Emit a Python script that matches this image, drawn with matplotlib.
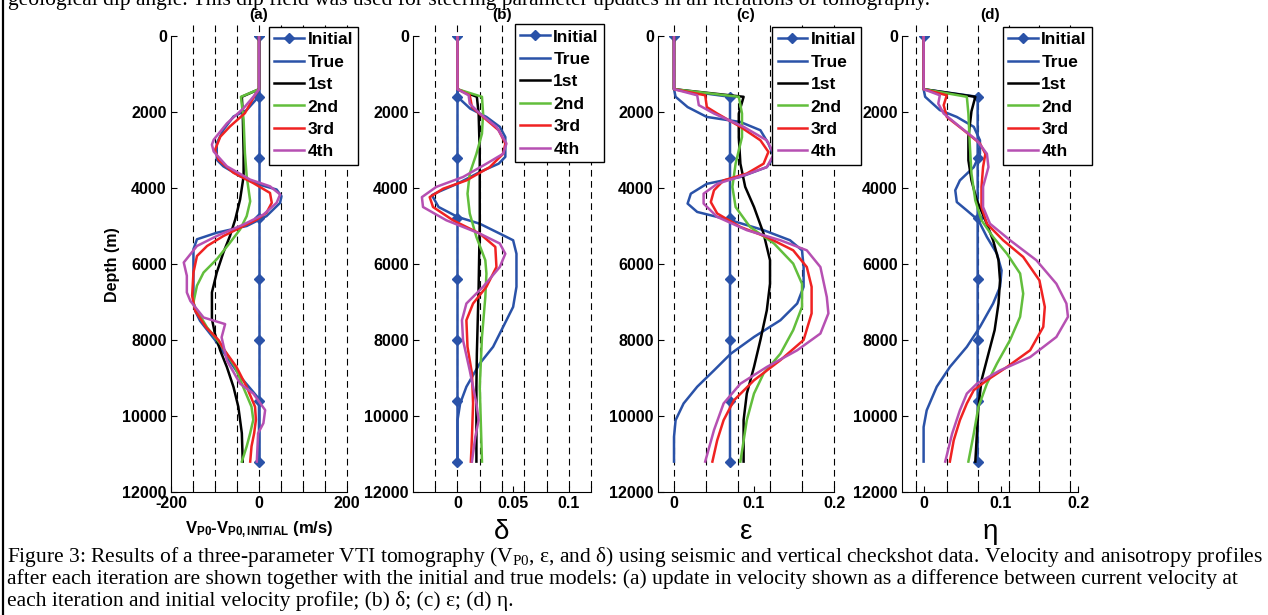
import matplotlib.pyplot as plt

plt.rcParams['font.family'] = ['Liberation Sans', 'DejaVu Sans']
plt.rcParams['mathtext.fontset'] = 'custom'
plt.rcParams['mathtext.rm'] = 'Liberation Serif:weight=normal'
plt.rcParams['mathtext.bf'] = 'Liberation Sans:bold'
plt.rcParams['mathtext.it'] = 'Liberation Serif:italic'

# --- data: (depth m, value) ---
initial_depth = [0, 1600, 3200, 4800, 6400, 8000, 9600, 11200]
initial_step_depth = [0, 1400, 1600, 3200, 4800, 6400, 8000, 9600, 11200]

# (a) velocity update, m/s
a_initial = [0, 0, 0, 0, 0, 0, 0, 0]
a_true = [(0, 0), (1400, 0), (1650, -5), (1950, -28), (2120, -58), (2470, -81), (2820, -96), (3256, -96),
          (3430, -81), (3690, -43), (3910, 0), (4040, 40), (4215, 51), (4390, 48), (4740, 17), (5000, -28),
          (5177, -96), (5350, -141), (5613, -149), (7010, -149), (7234, -145), (7495, -134), (8000, -100),
          (8500, -70), (9000, -40), (9300, -18), (9550, 0), (11200, 0)]
a_1st = [(0, 0), (1400, 0), (1600, -39), (2034, -37), (3082, -35), (3693, -35), (4304, -43), (4828, -54),
         (5264, -66), (5700, -81), (6224, -96), (6748, -107), (7447, -107), (7843, -100), (8278, -88),
         (8713, -73), (9235, -58), (9757, -47), (10453, -39), (11200, -37)]
a_2nd = [(0, 0), (1400, 0), (1600, -41), (2210, -35), (3080, -32), (3690, -28), (4350, -20), (4740, -28),
         (5090, -43), (5440, -66), (5875, -96), (6224, -126), (6570, -141), (7010, -149), (7147, -145),
         (7670, -118), (8100, -88), (8713, -54), (9235, -36), (9757, -17), (10100, -13), (10450, -20),
         (10800, -28), (11200, -39)]
a_3rd = [(0, 0), (1400, 0), (1550, -9), (2030, -32), (2380, -66), (2650, -88), (3000, -100), (3260, -92),
         (3600, -58), (3870, -13), (4130, 25), (4390, 29), (4650, 17), (4830, -5), (5046, -43), (5264, -81),
         (5526, -118), (5790, -141), (6224, -149), (6835, -152), (7234, -145), (7670, -120), (8000, -92),
         (8278, -78), (8713, -51), (9235, -28), (9757, -9), (10100, -7), (10453, -11), (10800, -17),
         (11200, -20)]
a_4th = [(0, 0), (1400, 0), (1600, -13), (1900, -35), (2300, -73), (2730, -103), (2860, -107), (3040, -103),
         (3430, -73), (3780, -20), (3955, 25), (4170, 48), (4390, 40), (4700, 10), (4960, -35), (5264, -96),
         (5526, -141), (5960, -171), (6310, -164), (6748, -164), (6973, -156), (7408, -126), (7582, -77),
         (7930, -85), (8540, -73), (9148, -43), (9409, -13), (9844, 14), (10190, 10), (10453, -2),
         (11200, -5)]

# (b) delta
b_initial = [0, 0, 0, 0, 0, 0, 0, 0]
b_true = [(0, 0), (1600, 0), (1910, 0.0114), (2130, 0.026), (2390, 0.038), (2660, 0.043), (3180, 0.043),
          (3360, 0.037), (3580, 0.020), (3885, 0), (4100, -0.017), (4190, -0.023), (4500, -0.017),
          (4760, 0), (4940, 0.020), (5200, 0.038), (5375, 0.050), (5730, 0.053), (6600, 0.053),
          (7130, 0.050), (7655, 0.041), (8180, 0.032), (8620, 0.020), (9230, 0.008), (9670, 0.0024),
          (10110, 0), (11200, 0)]
b_1st = [(0, 0), (1400, 0), (1600, 0.0174), (2040, 0.019), (3100, 0.020), (4850, 0.020), (6600, 0.019),
         (8360, 0.0174), (9230, 0.017), (11200, 0.017)]
b_2nd = [(0, 0), (1400, 0), (1600, 0.022), (2040, 0.023), (2570, 0.022), (3100, 0.017), (3620, 0.011),
         (4150, 0.009), (4670, 0.011), (5290, 0.017), (5900, 0.025), (6250, 0.026), (6870, 0.025),
         (7920, 0.022), (9230, 0.020), (11200, 0.022)]
b_3rd = [(0, 0), (1400, 0), (1560, 0.011), (1870, 0.013), (2130, 0.023), (2480, 0.037), (2830, 0.043),
         (3100, 0.041), (3450, 0.029), (3800, 0.008), (4020, -0.013), (4240, -0.025), (4500, -0.022),
         (4850, -0.004), (5200, 0.020), (5550, 0.034), (6080, 0.035), (6600, 0.026), (7040, 0.014),
         (7480, 0.008), (8180, 0.009), (8880, 0.013), (9670, 0.014), (10550, 0.013), (11200, 0.012)]
b_4th = [(0, 0), (1400, 0), (1560, 0.010), (1780, 0.011), (2040, 0.020), (2390, 0.035), (2830, 0.044),
         (3100, 0.041), (3360, 0.026), (3710, 0.005), (3970, -0.019), (4240, -0.032), (4500, -0.031),
         (4850, -0.010), (5200, 0.020), (5460, 0.038), (5730, 0.043), (6080, 0.038), (6600, 0.023),
         (7040, 0.008), (7480, 0.004), (8010, 0.005), (8800, 0.011), (9670, 0.017), (10110, 0.019),
         (10550, 0.016), (11200, 0.013)]

# (c) epsilon
c_initial = [0, 0, 0.07, 0.07, 0.07, 0.07, 0.07, 0.07, 0.07]
c_true = [(0, 0), (1400, 0), (1600, 0.002), (1870, 0.017), (2130, 0.041), (2263, 0.083), (2480, 0.108),
          (2830, 0.118), (3180, 0.125), (3450, 0.116), (3710, 0.083), (3890, 0.041), (4150, 0.021),
          (4410, 0.017), (4630, 0.029), (4850, 0.071), (5110, 0.112), (5375, 0.145), (5640, 0.160),
          (6080, 0.162), (6600, 0.162), (7040, 0.154), (7480, 0.133), (7920, 0.100), (8360, 0.071),
          (8800, 0.050), (9230, 0.029), (9670, 0.012), (10110, 0.002), (10550, 0), (11200, 0)]
c_1st = [(0, 0), (1400, 0), (1600, 0.087), (2040, 0.081), (2660, 0.081), (3360, 0.083), (3970, 0.089),
         (4500, 0.100), (5200, 0.112), (5900, 0.120), (6520, 0.120), (7220, 0.116), (8000, 0.108),
         (8710, 0.100), (9410, 0.091), (10110, 0.087), (11200, 0.087)]
c_2nd = [(0, 0), (1400, 0), (1600, 0.081), (2040, 0.085), (2660, 0.085), (3360, 0.077), (3970, 0.073),
         (4500, 0.077), (5025, 0.095), (5460, 0.125), (5990, 0.149), (6520, 0.160), (7130, 0.160),
         (7740, 0.149), (8360, 0.133), (8880, 0.112), (9410, 0.100), (10110, 0.091), (11200, 0.083)]
c_3rd = [(0, 0), (1400, 0), (1560, 0.039), (1870, 0.041), (2040, 0.054), (2390, 0.083), (2745, 0.108),
         (3050, 0.118), (3360, 0.112), (3620, 0.091), (3800, 0.062), (4060, 0.050), (4370, 0.046),
         (4670, 0.054), (5025, 0.083), (5290, 0.116), (5640, 0.149), (6080, 0.166), (6600, 0.172),
         (7300, 0.172), (8000, 0.162), (8530, 0.133), (9060, 0.100), (9585, 0.075), (10110, 0.062),
         (10640, 0.054), (11200, 0.048)]
c_4th = [(0, 0), (1400, 0), (1560, 0.029), (1820, 0.031), (2040, 0.050), (2390, 0.087), (2745, 0.116),
         (3100, 0.125), (3450, 0.116), (3670, 0.087), (3890, 0.054), (4150, 0.037), (4410, 0.037),
         (4760, 0.054), (5110, 0.091), (5375, 0.133), (5640, 0.166), (6080, 0.183), (6870, 0.191),
         (7300, 0.193), (7830, 0.183), (8270, 0.154), (8710, 0.116), (9150, 0.083), (9670, 0.062),
         (10370, 0.050), (11200, 0.039)]

# (d) eta
d_initial = [0, 0, 0.07, 0.07, 0.07, 0.07, 0.07, 0.07, 0.07]
d_true = [(0, 0), (1400, 0), (1600, 0.002), (1950, 0.021), (2130, 0.043), (2390, 0.065), (2745, 0.073),
          (3100, 0.073), (3450, 0.065), (3800, 0.047), (4060, 0.041), (4370, 0.043), (4590, 0.056),
          (4850, 0.071), (5290, 0.082), (5730, 0.095), (6170, 0.101), (6600, 0.099), (7040, 0.090),
          (7655, 0.073), (8180, 0.056), (8710, 0.034), (9230, 0.017), (9850, 0.004), (10290, 0), (11200, 0)]
d_1st = [(0, 0), (1400, 0), (1600, 0.067), (1980, 0.062), (2660, 0.058), (3270, 0.058), (3800, 0.062),
         (4330, 0.069), (4850, 0.080), (5375, 0.090), (5900, 0.097), (6430, 0.099), (7040, 0.097),
         (7740, 0.092), (8360, 0.084), (9060, 0.075), (9760, 0.071), (11200, 0.067)]
d_2nd = [(0, 0), (1400, 0), (1600, 0.056), (2040, 0.058), (2920, 0.060), (3620, 0.062), (4330, 0.067),
         (4850, 0.075), (5290, 0.090), (5730, 0.108), (6250, 0.125), (6780, 0.129), (7390, 0.125),
         (8000, 0.112), (8620, 0.095), (9150, 0.082), (9760, 0.071), (10460, 0.065), (11200, 0.058)]
d_3rd = [(0, 0), (1400, 0), (1560, 0.030), (1820, 0.026), (2130, 0.030), (2480, 0.052), (2830, 0.073),
         (3100, 0.080), (3450, 0.077), (3970, 0.075), (4500, 0.075), (4940, 0.082), (5375, 0.103),
         (5815, 0.129), (6430, 0.150), (7130, 0.157), (7655, 0.155), (8270, 0.138), (8710, 0.108),
         (9060, 0.082), (9320, 0.065), (9670, 0.056), (10110, 0.047), (10640, 0.039), (11200, 0.034)]
d_4th = [(0, 0), (1400, 0), (1560, 0.021), (1780, 0.019), (2040, 0.026), (2390, 0.047), (2745, 0.069),
         (3100, 0.082), (3450, 0.084), (3970, 0.077), (4500, 0.077), (4940, 0.086), (5375, 0.112),
         (5900, 0.146), (6520, 0.172), (7040, 0.185), (7390, 0.187), (7920, 0.172), (8450, 0.138),
         (8800, 0.099), (9150, 0.069), (9410, 0.056), (9850, 0.047), (10460, 0.037), (11200, 0.028)]

labels = ['Initial', 'True', '1st', '2nd', '3rd', '4th']
colors = ['#2A52A8', '#2A52A8', '#000000', '#62BE3C', '#F02222', '#B650B2']

W, H = 1268, 615
fig = plt.figure(figsize=(W / 100, H / 100), dpi=100)


def px_axes(x0, x1, y0=36, y1=492):
    return fig.add_axes([x0 / W, 1 - y1 / H, (x1 - x0) / W, (y1 - y0) / H])


def panel(ax, init_depth, init_vals, curves, xlim, grid, ticks, ticklabels, leg_xy):
    for g in grid:
        ax.plot([g, g], [-280, 12000], color='k', lw=0.8, ls=(0, (6, 4)), clip_on=False, zorder=0)
    mk = [i for i, d in enumerate(init_depth) if d % 1600 == 0]
    ax.plot(init_vals, init_depth, color=colors[0], lw=1.8, marker='D', ms=5,
            markevery=mk, label=labels[0])
    for c, col, lab in zip(curves, colors[1:], labels[1:]):
        ax.plot([v for d, v in c], [d for d, v in c], color=col, lw=1.8, label=lab)
    ax.set_xlim(*xlim)
    ax.set_ylim(12000, 0)
    ax.set_yticks(range(0, 12001, 2000))
    ax.set_xticks(ticks)
    ax.set_xticklabels(ticklabels)
    ax.set_xticks(grid, minor=True)
    for s in ['top', 'right']:
        ax.spines[s].set_visible(False)
    ax.tick_params(which='both', direction='in', length=4, width=0.8, labelsize=11.5, pad=3)
    for lab in ax.get_xticklabels() + ax.get_yticklabels():
        lab.set_fontweight('bold')
    leg = ax.legend(loc='upper right', bbox_to_anchor=leg_xy, borderaxespad=0, fancybox=False,
                    edgecolor='k', framealpha=1, prop={'weight': 'bold', 'size': 12.5},
                    handlelength=1.7, handletextpad=0.2, labelspacing=0.42, borderpad=0.3)
    leg.get_frame().set_linewidth(1.0)


ax_a = px_axes(171, 347)
panel(ax_a, initial_depth, a_initial, [a_true, a_1st, a_2nd, a_3rd, a_4th], (-200, 200),
      range(-150, 201, 50), [-200, 0, 200], ['-200', '0', '200'], (1.063, 1.02))
ax_b = px_axes(413, 591)
panel(ax_b, initial_depth, b_initial, [b_true, b_1st, b_2nd, b_3rd, b_4th], (-0.04, 0.12),
      [-0.02, 0, 0.02, 0.04, 0.06, 0.08, 0.1, 0.12], [0, 0.05, 0.1], ['0', '0.05', '0.1'], (1.073, 1.026))
ax_c = px_axes(658, 834)
panel(ax_c, initial_step_depth, c_initial, [c_true, c_1st, c_2nd, c_3rd, c_4th], (-0.02, 0.2),
      [0, 0.04, 0.08, 0.12, 0.16, 0.2], [0, 0.1, 0.2], ['0', '0.1', '0.2'], (1.155, 1.02))
ax_d = px_axes(902, 1078)
panel(ax_d, initial_step_depth, d_initial, [d_true, d_1st, d_2nd, d_3rd, d_4th], (-0.028, 0.2),
      [-0.01, 0.03, 0.07, 0.11, 0.15, 0.19], [0, 0.1, 0.2], ['0', '0.1', '0.2'], (1.08, 1.02))

for x, t in zip([259, 502, 746, 990], ['(a)', '(b)', '(c)', '(d)']):
    fig.text(x / W, 1 - 15 / H, t, ha='center', va='center', fontsize=11, weight='bold')

fig.text(112 / W, 1 - 265 / H, 'Depth (m)', rotation=90, ha='center', va='center', fontsize=11.5,
         weight='bold')
fig.text(259 / W, 1 - 530 / H, r'$\mathbf{V_{P0}}$-$\mathbf{V_{P0,INITIAL}}$ (m/s)',
         ha='center', va='center', fontsize=12, weight='bold')
for x, t in zip([502, 746, 990], ['δ', 'ε', 'η']):
    fig.text(x / W, 1 - 532 / H, t, ha='center', va='center', fontsize=20)

# surrounding page text
serif = ['Liberation Serif', 'DejaVu Serif']
fig.text(8 / W, 1 - 5 / H, 'geological dip angle. This dip field was used for steering parameter updates '
         'in all iterations of tomography.', family=serif, fontsize=15.5, va='baseline')
caption = [r'Figure 3: Results of a three-parameter VTI tomography (V$_{\mathrm{P0}}$, ε, and δ) using seismic '
           'and vertical checkshot data. Velocity and anisotropy profiles',
           'after each iteration are shown together with the initial and true models: (a) update in velocity '
           'shown as a difference between current velocity at',
           'each iteration and initial velocity profile; (b) δ; (c) ε; (d) η.']
for i, line in enumerate(caption):
    fig.text(7 / W, 1 - (562 + 22 * i) / H, line, family=serif, fontsize=15.5, va='baseline')
fig.add_artist(plt.Line2D([2.5 / W, 2.5 / W], [0, 1], color='k', lw=1.6))

fig.savefig('out.png', dpi=100)
